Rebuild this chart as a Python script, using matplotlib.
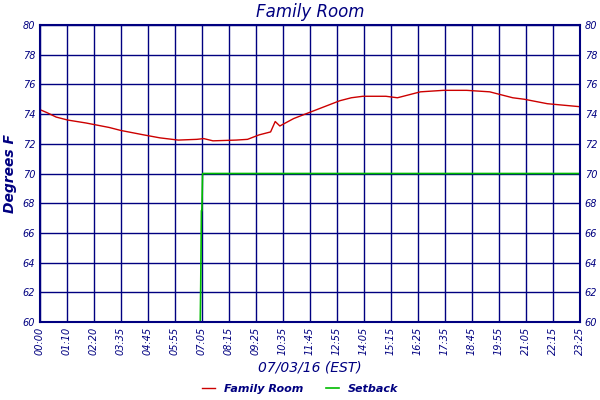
import matplotlib
matplotlib.use("Agg")
import matplotlib.pyplot as plt
import numpy as np

navy = "#000080"

room_t = [0, 0.3, 0.7, 1.2, 2.0, 3.0, 3.5, 4.5, 5.2, 6.0, 6.8, 7.1, 7.5, 8.5, 9.0, 9.5,
          10.0, 10.2, 10.4, 11.0, 11.5, 12.0, 12.5, 13.0, 13.5, 14.0, 15.0, 15.5, 16.0,
          16.5, 17.5, 18.5, 19.5, 20.5, 21.0, 22.0, 23.4]
room_v = [74.3, 74.1, 73.8, 73.6, 73.4, 73.1, 72.9, 72.6, 72.4, 72.25, 72.3, 72.35, 72.2,
          72.25, 72.3, 72.6, 72.8, 73.5, 73.2, 73.7, 74.0, 74.3, 74.6, 74.9, 75.1, 75.2,
          75.2, 75.1, 75.3, 75.5, 75.6, 75.6, 75.5, 75.1, 75.0, 74.7, 74.5]
setback_t = [0, 6.95, 6.97, 7.0, 7.02, 7.05, 23.4]
setback_v = [60, 60, 62.5, 67.5, 67.5, 70, 70]
tick_labels = ["00:00", "01:10", "02:20", "03:35", "04:45", "05:55", "07:05", "08:15",
               "09:25", "10:35", "11:45", "12:55", "14:05", "15:15", "16:25", "17:35",
               "18:45", "19:55", "21:05", "22:15", "23:25"]

fig = plt.figure(figsize=(6, 4), dpi=100)
ax = fig.add_axes([40 / 600, 78 / 400, 540 / 600, 297 / 400])
ax.plot(room_t, room_v, color="#cc0000", lw=1, label="Family Room")
ax.plot(setback_t, setback_v, color="#00bb00", lw=1.2, label="Setback")
ax.set_xlim(0, 23.4167)
ax.set_ylim(60, 80)
ax.set_xticks(np.linspace(0, 23.4167, len(tick_labels)))
ax.set_xticklabels(tick_labels, rotation=90)
ax.set_yticks(range(60, 81, 2))
ax.grid(True, color=navy, lw=1)
ax.tick_params(colors=navy, labelsize=7, length=0, right=True, labelright=True)
for lab in ax.get_xticklabels() + ax.get_yticklabels():
    lab.set_style("italic")
for s in ax.spines.values():
    s.set_color(navy)
    s.set_linewidth(1.5)
ax.set_title("Family Room", color=navy, style="italic", fontsize=12, pad=6)
ax.set_ylabel("Degrees F", color=navy, style="italic", fontweight="bold", fontsize=10)
ax.set_xlabel("07/03/16 (EST)", color=navy, style="italic", fontsize=10)
leg = fig.legend(loc="lower center", ncol=2, frameon=False, fontsize=8,
                 bbox_to_anchor=(0.5, -0.01), handlelength=1.2)
for t in leg.get_texts():
    t.set_color(navy)
    t.set_style("italic")
    t.set_fontweight("bold")
fig.savefig("out.png")
